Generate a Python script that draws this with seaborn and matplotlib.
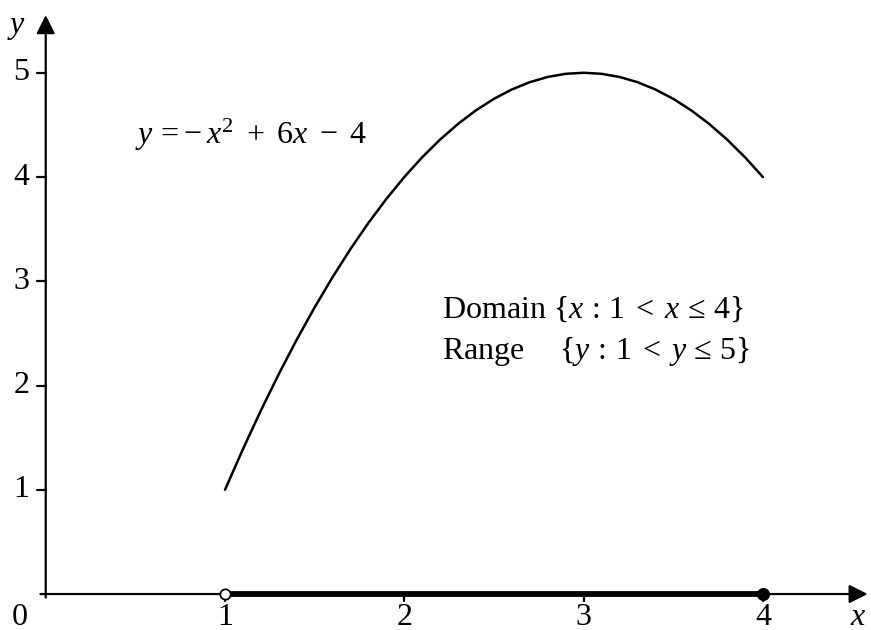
"""
Quadratic y = -x^2 + 6x - 4 on a restricted domain, textbook style axes.
"""
import numpy as np
import pandas as pd
import seaborn as sns
import matplotlib.pyplot as plt
from matplotlib.patches import FancyArrowPatch

# ----------------------------------------------------------------------------
# DATA
# ----------------------------------------------------------------------------
curve_x = [1.0, 1.1, 1.2, 1.3, 1.4, 1.5, 1.6, 1.7, 1.8, 1.9, 2.0,
           2.1, 2.2, 2.3, 2.4, 2.5, 2.6, 2.7, 2.8, 2.9, 3.0,
           3.1, 3.2, 3.3, 3.4, 3.5, 3.6, 3.7, 3.8, 3.9, 4.0]
curve_y = [1.00, 1.39, 1.76, 2.11, 2.44, 2.75, 3.04, 3.31, 3.56, 3.79, 4.00,
           4.19, 4.36, 4.51, 4.64, 4.75, 4.84, 4.91, 4.96, 4.99, 5.00,
           4.99, 4.96, 4.91, 4.84, 4.75, 4.64, 4.51, 4.36, 4.19, 4.00]
x_ticks = [1, 2, 3, 4]
y_ticks = [1, 2, 3, 4, 5]
domain_ends = [1, 4]          # open at 1, closed at 4
equation = r'$y\,=\!-x^{2}\ +\ 6x\ -\ 4$'
domain_text = r'Domain $\{x\,:\,1\;<\;x\,\leq\,4\}$'
range_text = r'Range    $\,\{y\,:\,1\;<\;y\,\leq\,5\}$'

# ----------------------------------------------------------------------------
# STYLE
# ----------------------------------------------------------------------------
sns.set_theme(style="white")
plt.rcParams.update({
    'font.family': ['Liberation Serif', 'DejaVu Serif'],
    'text.color': 'black',
    'mathtext.fontset': 'custom',
    'mathtext.rm': 'Liberation Serif',
    'mathtext.it': 'Liberation Serif:italic',
    'mathtext.bf': 'Liberation Serif:bold',
})

fig = plt.figure(figsize=(8.71, 6.30), dpi=100)
ax = fig.add_axes([0, 0, 1, 1])
ax.set_xlim(-0.255, 4.603)
ax.set_ylim(-0.345, 5.698)
ax.set_axis_off()

fs = 23
lw = 1.6

# axes with arrow heads
ax.add_patch(FancyArrowPatch((-0.045, 0), (4.60, 0), arrowstyle='-|>',
                             mutation_scale=28, lw=lw, color='black'))
ax.add_patch(FancyArrowPatch((0, -0.06), (0, 5.58), arrowstyle='-|>',
                             mutation_scale=28, lw=lw, color='black'))

# tick marks
for t in x_ticks:
    ax.plot([t, t], [0, -0.07], color='black', lw=lw)
    ax.text(t, -0.09, str(t), ha='center', va='top', fontsize=fs)
for t in y_ticks:
    ax.plot([-0.05, 0], [t, t], color='black', lw=lw)
    ax.text(-0.09, t, str(t), ha='right', va='center', fontsize=fs)
ax.text(-0.143, -0.09, '0', ha='center', va='top', fontsize=fs)

# axis names
ax.text(4.53, -0.09, 'x', ha='center', va='top', fontsize=fs, style='italic')
ax.text(-0.16, 5.45, 'y', ha='center', va='center', fontsize=fs, style='italic')

# the curve
df = pd.DataFrame({'x': curve_x, 'y': curve_y})
sns.lineplot(data=df, x='x', y='y', color='black', lw=1.8, ax=ax,
             estimator=None, sort=False)

# domain highlighted on the x axis
ax.plot(domain_ends, [0, 0], color='black', lw=4.2, solid_capstyle='butt',
        zorder=3)
ax.scatter([domain_ends[0]], [0], s=55, facecolor='white', edgecolor='black',
           lw=1.3, zorder=4)
ax.scatter([domain_ends[1]], [0], s=70, color='black', zorder=4)

# annotations
ax.text(0.5, 4.40, equation, ha='left', va='center', fontsize=fs)
ax.text(2.21, 2.73, domain_text, ha='left', va='center', fontsize=fs)
ax.text(2.21, 2.33, range_text, ha='left', va='center', fontsize=fs)

fig.savefig('out.png', dpi=100)
plt.close(fig)
